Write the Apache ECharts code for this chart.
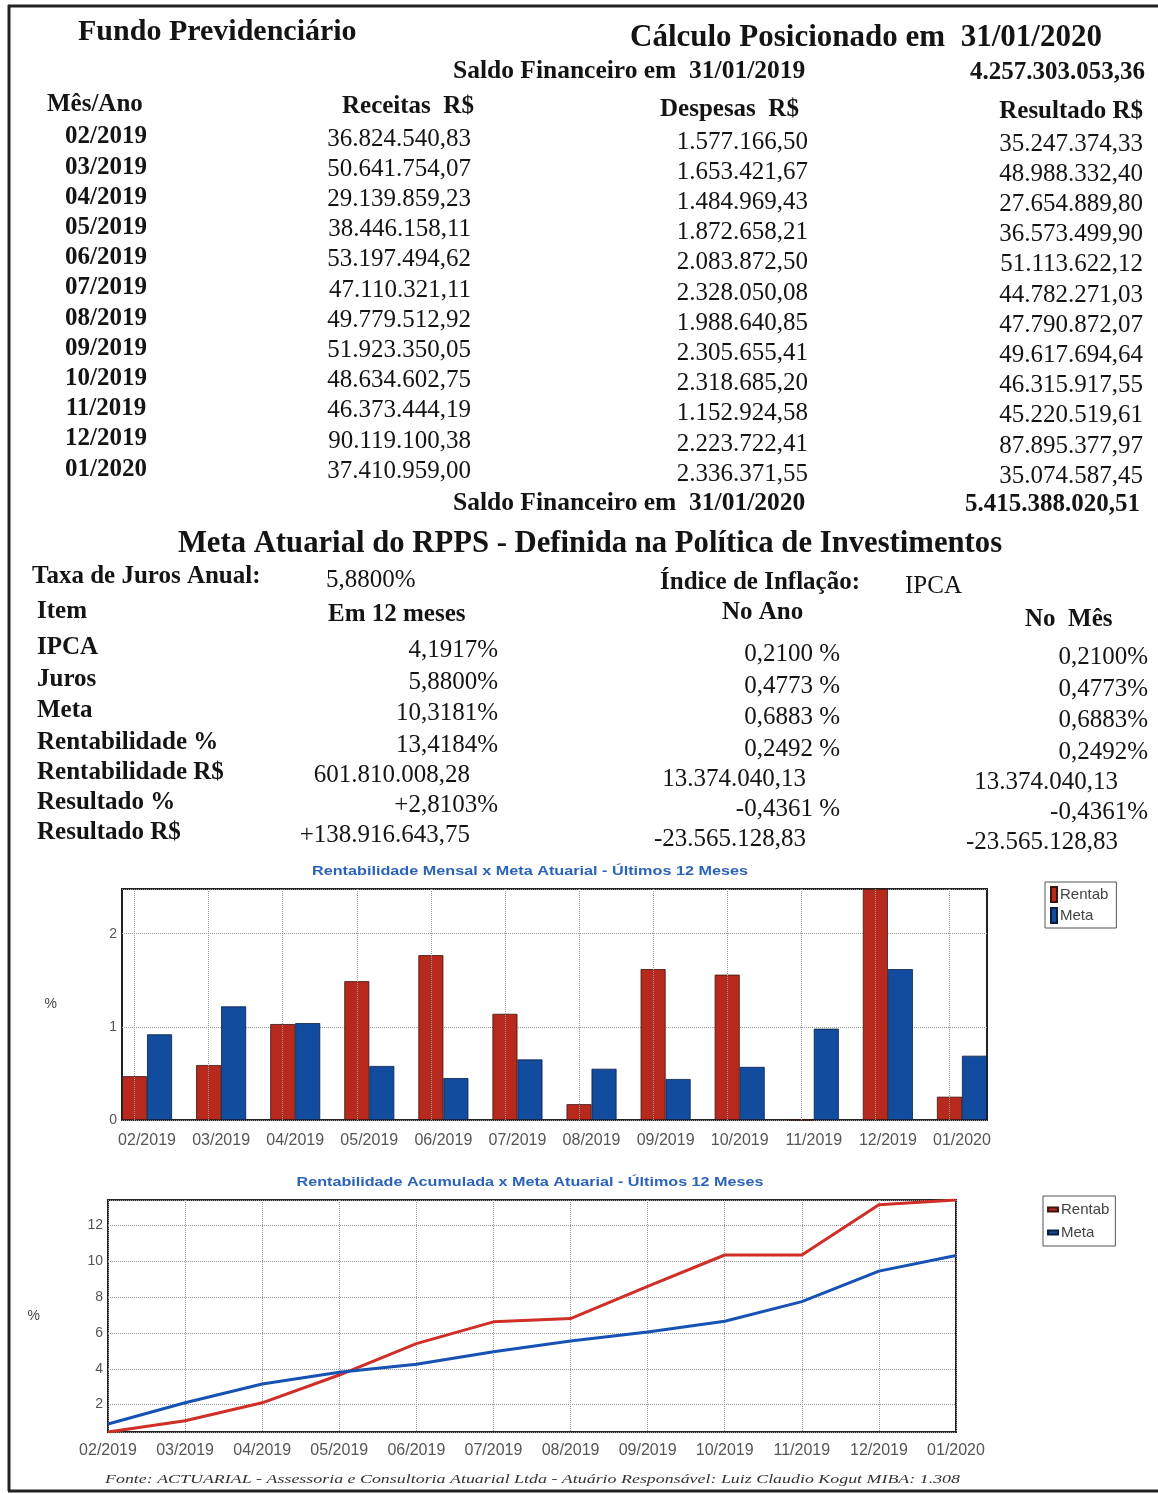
<!DOCTYPE html>
<html>
<head>
<meta charset="utf-8">
<script src="https://cdn.jsdelivr.net/npm/echarts@6/dist/echarts.min.js"></script>
<style>
html, body { margin: 0; padding: 0; background: #fff; }
#main { width: 1158px; height: 1494px; }
</style>
</head>
<body>
<div id="main"></div>
<script>
// dados da tabela
const meses = ['02/2019', '03/2019', '04/2019', '05/2019', '06/2019', '07/2019',
               '08/2019', '09/2019', '10/2019', '11/2019', '12/2019', '01/2020'];
const receitas = [36824540.83, 50641754.07, 29139859.23, 38446158.11, 53197494.62, 47110321.11,
                  49779512.92, 51923350.05, 48634602.75, 46373444.19, 90119100.38, 37410959.00];
const despesas = [1577166.50, 1653421.67, 1484969.43, 1872658.21, 2083872.50, 2328050.08,
                  1988640.85, 2305655.41, 2318685.20, 1152924.58, 2223722.41, 2336371.55];
const resultado = [35247374.33, 48988332.40, 27654889.80, 36573499.90, 51113622.12, 44782271.03,
                   47790872.07, 49617694.64, 46315917.55, 45220519.61, 87895377.97, 35074587.45];
const saldoInicial = 4257303053.36;
const saldoFinal = 5415388020.51;

// meta atuarial
const itens = ['IPCA', 'Juros', 'Meta', 'Rentabilidade %', 'Rentabilidade R$', 'Resultado %', 'Resultado R$'];
const em12Meses = ['4,1917%', '5,8800%', '10,3181%', '13,4184%', '601.810.008,28', '+2,8103%', '+138.916.643,75'];
const noAno = ['0,2100 %', '0,4773 %', '0,6883 %', '0,2492 %', '13.374.040,13', '-0,4361 %', '-23.565.128,83'];
const noMes = ['0,2100%', '0,4773%', '0,6883%', '0,2492%', '13.374.040,13', '-0,4361%', '-23.565.128,83'];

// graficos
const rentabMensal = [0.47, 0.59, 1.03, 1.49, 1.77, 1.14, 0.17, 1.62, 1.56, 0, 2.48, 0.25];
const metaMensal = [0.92, 1.22, 1.04, 0.58, 0.45, 0.65, 0.55, 0.44, 0.57, 0.98, 1.62, 0.69];
const rentabAcum = [0.47, 1.1, 2.1, 3.65, 5.4, 6.62, 6.8, 8.6, 10.35, 10.35, 13.15, 13.42];
const metaAcum = [0.92, 2.1, 3.15, 3.8, 4.25, 4.95, 5.55, 6.05, 6.65, 7.75, 9.45, 10.32];

const SERIF = '"Liberation Serif", "Times New Roman", serif';
const SANS = '"Liberation Sans", Arial, sans-serif';
const VERMELHO = '#b8291d';
const AZUL = '#114c9e';

const fmt = v => {
    const [i, d] = v.toFixed(2).split('.');
    return i.replace(/\B(?=(\d{3})+(?!\d))/g, '.') + ',' + d;
};

const ctx = document.createElement('canvas').getContext('2d');
const ajusta = (text, font, w) => {
    ctx.font = font;
    return w / ctx.measureText(text).width;
};

const texto = (x, y, text, o = {}) => ({
    type: 'text',
    x: x,
    y: y,
    scaleX: o.sx || 1,
    silent: true,
    style: {
        text: text,
        fill: o.cor || '#141414',
        fontFamily: o.fam || SERIF,
        fontSize: o.tam || 25,
        fontWeight: o.neg ? 'bold' : 'normal',
        fontStyle: o.it ? 'italic' : 'normal',
        align: o.al || 'left',
        verticalAlign: 'middle'
    }
});

const montaGraphic = () => {
    const g = [];
    // moldura da pagina
    g.push({ type: 'line', silent: true, shape: { x1: 9, y1: 5, x2: 9, y2: 1491 }, style: { stroke: '#222', lineWidth: 3 } });
    g.push({ type: 'line', silent: true, shape: { x1: 8, y1: 6, x2: 1158, y2: 6 }, style: { stroke: '#222', lineWidth: 3 } });
    g.push({ type: 'line', silent: true, shape: { x1: 8, y1: 1491, x2: 1158, y2: 1491 }, style: { stroke: '#222', lineWidth: 3 } });

    g.push(texto(78, 32, 'Fundo Previdenciário', { neg: true, tam: 30 }));
    g.push(texto(630, 38, 'Cálculo Posicionado em  31/01/2020', { neg: true, tam: 31 }));
    g.push(texto(453, 71, 'Saldo Financeiro em  31/01/2019', { neg: true, tam: 25.5 }));
    g.push(texto(1145, 73, fmt(saldoInicial), { neg: true, al: 'right' }));

    g.push(texto(47, 105, 'Mês/Ano', { neg: true }));
    g.push(texto(342, 107, 'Receitas  R$', { neg: true }));
    g.push(texto(660, 110, 'Despesas  R$', { neg: true }));
    g.push(texto(1143, 112, 'Resultado R$', { neg: true, al: 'right' }));

    meses.forEach((m, i) => {
        const y = 137 + i * 30.2;
        g.push(texto(106, y, m, { neg: true, al: 'center' }));
        g.push(texto(471, y + 2, fmt(receitas[i]), { al: 'right' }));
        g.push(texto(808, y + 5, fmt(despesas[i]), { al: 'right' }));
        g.push(texto(1143, y + 7, fmt(resultado[i]), { al: 'right' }));
    });

    g.push(texto(453, 503, 'Saldo Financeiro em  31/01/2020', { neg: true, tam: 25.5 }));
    g.push(texto(1140, 505, fmt(saldoFinal), { neg: true, al: 'right' }));

    g.push(texto(590, 544, 'Meta Atuarial do RPPS - Definida na Política de Investimentos', { neg: true, tam: 30.7, al: 'center' }));
    g.push(texto(32, 577, 'Taxa de Juros Anual:', { neg: true }));
    g.push(texto(326, 580, '5,8800%'));
    g.push(texto(660, 583, 'Índice de Inflação:', { neg: true }));
    g.push(texto(905, 586, 'IPCA'));

    g.push(texto(37, 612, 'Item', { neg: true }));
    g.push(texto(328, 615, 'Em 12 meses', { neg: true }));
    g.push(texto(722, 613, 'No Ano', { neg: true }));
    g.push(texto(1025, 620, 'No  Mês', { neg: true }));

    const ys = [648, 680, 711, 743, 773, 803, 833];
    itens.forEach((it, i) => {
        const y = ys[i];
        const pct = em12Meses[i].endsWith('%');
        g.push(texto(37, y, it, { neg: true }));
        g.push(texto(pct ? 498 : 470, y + 2, em12Meses[i], { al: 'right' }));
        g.push(texto(pct ? 840 : 806, y + 6, noAno[i], { al: 'right' }));
        g.push(texto(pct ? 1148 : 1118, y + 9, noMes[i], { al: 'right' }));
    });

    // titulos dos graficos
    const t1 = 'Rentabilidade Mensal x Meta Atuarial - Últimos 12 Meses';
    const t2 = 'Rentabilidade Acumulada x Meta Atuarial - Últimos 12 Meses';
    g.push(texto(530, 871, t1, { fam: SANS, tam: 13, neg: true, cor: '#2b63b9', al: 'center',
        sx: ajusta(t1, 'bold 13px ' + SANS, 436) }));
    g.push(texto(530, 1182, t2, { fam: SANS, tam: 13, neg: true, cor: '#2b63b9', al: 'center',
        sx: ajusta(t2, 'bold 13px ' + SANS, 467) }));

    const fonte = 'Fonte: ACTUARIAL - Assessoria e Consultoria Atuarial Ltda - Atuário Responsável: Luiz Claudio Kogut MIBA: 1.308';
    g.push(texto(105, 1480, fonte, { tam: 13, it: true, cor: '#333',
        sx: ajusta(fonte, 'italic 13px ' + SERIF, 855) }));
    return g;
};

const getOption = () => {
    const eixoX = { fontFamily: SANS, fontSize: 16, color: '#555' };
    const eixoY = { fontFamily: SANS, fontSize: 14, color: '#555' };
    const pontilhado = { lineStyle: { type: 'dotted', color: '#999', width: 1 } };
    const legendaTexto = { fontFamily: SANS, fontSize: 15, color: '#444', padding: [0, 0, 0, -2] };
    return {
        animation: false,
        graphic: montaGraphic(),
        legend: [
            {
                data: [{ name: 'Rentab', icon: 'rect' }, { name: 'Meta', icon: 'rect' }],
                orient: 'vertical', left: 1045, top: 882,
                itemWidth: 6, itemHeight: 15, itemGap: 4,
                padding: [4, 8, 4, 5], borderColor: '#555', borderWidth: 1,
                textStyle: legendaTexto,
                selectedMode: false
            },
            {
                data: [{ name: 'Rentab', icon: 'rect' }, { name: 'Meta', icon: 'rect' }],
                orient: 'vertical', left: 1043, top: 1196,
                itemWidth: 10, itemHeight: 4, itemGap: 8,
                padding: [6, 6, 6, 4], borderColor: '#555', borderWidth: 1,
                textStyle: legendaTexto,
                selectedMode: false
            }
        ],
        grid: [
            { left: 122, top: 889, width: 865, height: 231, show: true, borderColor: '#222', borderWidth: 2, backgroundColor: 'transparent' },
            { left: 110, top: 889, width: 889, height: 231 },
            { left: 108, top: 1200, width: 848, height: 232, show: true, borderColor: '#222', borderWidth: 2 }
        ],
        xAxis: [
            { gridIndex: 0, type: 'value', min: 0, max: 1, show: false },
            {
                gridIndex: 1, type: 'category', data: meses,
                axisLine: { show: false }, axisTick: { show: false },
                axisLabel: Object.assign({ margin: 13, interval: 0 }, eixoX)
            },
            {
                gridIndex: 2, type: 'category', data: meses, boundaryGap: false,
                axisLine: { show: false }, axisTick: { show: false },
                axisLabel: Object.assign({ margin: 11, interval: 0 }, eixoX),
                splitLine: Object.assign({ show: true, interval: 0 }, pontilhado)
            }
        ],
        yAxis: [
            {
                gridIndex: 0, type: 'value', min: 0, max: 2.48, interval: 1,
                name: '%', nameLocation: 'middle', nameRotate: 0, nameGap: 65,
                nameTextStyle: { fontFamily: SANS, fontSize: 14, color: '#444' },
                axisLine: { show: false }, axisTick: { show: false },
                axisLabel: Object.assign({ margin: 5, showMaxLabel: false }, eixoY),
                splitLine: pontilhado
            },
            { gridIndex: 1, type: 'value', min: 0, max: 2.48, show: false },
            {
                gridIndex: 2, type: 'value', min: 0.47, max: 13.42, splitNumber: 6,
                name: '%', nameLocation: 'middle', nameRotate: 0, nameGap: 68,
                nameTextStyle: { fontFamily: SANS, fontSize: 14, color: '#444' },
                axisLine: { show: false }, axisTick: { show: false },
                axisLabel: Object.assign({ margin: 5, showMinLabel: false, showMaxLabel: false }, eixoY),
                splitLine: pontilhado
            }
        ],
        series: [
            {
                name: 'Rentab', type: 'bar', xAxisIndex: 1, yAxisIndex: 1,
                data: rentabMensal, barWidth: 25, barGap: '0%',
                itemStyle: { color: VERMELHO, borderColor: '#3a1510', borderWidth: 0.8 },
                markLine: {
                    silent: true, symbol: ['none', 'none'], label: { show: false },
                    lineStyle: { type: 'dotted', color: '#999', width: 1 },
                    data: meses.map(m => ({ xAxis: m }))
                }
            },
            {
                name: 'Meta', type: 'bar', xAxisIndex: 1, yAxisIndex: 1,
                data: metaMensal, barWidth: 25, barGap: '0%',
                itemStyle: { color: AZUL, borderColor: '#0a1f40', borderWidth: 0.8 }
            },
            {
                name: 'Rentab', type: 'line', xAxisIndex: 2, yAxisIndex: 2,
                data: rentabAcum, symbol: 'none',
                lineStyle: { color: '#cf2f27', width: 3 }, itemStyle: { color: VERMELHO }
            },
            {
                name: 'Meta', type: 'line', xAxisIndex: 2, yAxisIndex: 2,
                data: metaAcum, symbol: 'none',
                lineStyle: { color: '#1652b3', width: 3 }, itemStyle: { color: AZUL }
            }
        ]
    };
};

const initChart = () => {
    const chart = echarts.init(document.getElementById('main'));
    chart.setOption(getOption());
};

window.addEventListener('load', () => {
    initChart();
});
</script>
</body>
</html>
